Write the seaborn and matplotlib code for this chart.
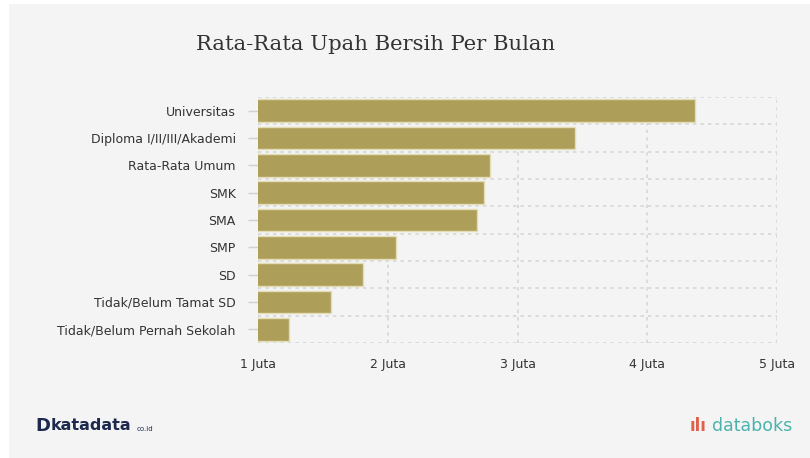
import matplotlib
matplotlib.use("Agg")
import matplotlib.pyplot as plt
import seaborn as sns
import pandas as pd
import numpy as np
from matplotlib.patches import Rectangle

categories = ["Universitas", "Diploma I/II/III/Akademi", "Rata-Rata Umum", "SMK", "SMA",
              "SMP", "SD", "Tidak/Belum Tamat SD", "Tidak/Belum Pernah Sekolah"]
values = [4.37, 3.44, 2.79, 2.74, 2.69, 2.06, 1.81, 1.56, 1.24]
xticks = [1, 2, 3, 4, 5]
xtick_labels = ["1 Juta", "2 Juta", "3 Juta", "4 Juta", "5 Juta"]
title = "Rata-Rata Upah Bersih Per Bulan"

df = pd.DataFrame({"kategori": categories, "nilai": values})

sns.set_style("white")
plt.rcParams["font.family"] = ["DejaVu Sans"]

bg = "#f4f4f4"
fig = plt.figure(figsize=(8.1, 4.58), dpi=100, facecolor="white")
fig.patches.append(Rectangle((9 / 810, 0), 1, 1 - 4 / 458, transform=fig.transFigure,
                             facecolor=bg, edgecolor="none", zorder=-10))
ax = fig.add_axes([258 / 810, 1 - 343 / 458, (777 - 258) / 810, (343 - 97) / 458])
ax.set_facecolor(bg)

sns.barplot(data=df, x="nilai", y="kategori", orient="h", color="#ad9f5a",
            saturation=1, width=0.84, edgecolor="#e4dcb4", linewidth=1, ax=ax, zorder=3)

ax.set_xlim(1, 5)
ax.set_ylim(len(categories) - 0.5, -0.5)
ax.set_xticks(xticks)
ax.set_xticklabels(xtick_labels)
ax.set_yticks(range(len(categories)))
ax.set_yticks(np.arange(-0.5, len(categories), 1.0), minor=True)
ax.set_xlabel("")
ax.set_ylabel("")

gridc = "#d6d6d6"
ax.grid(False)
ax.xaxis.grid(True, which="major", color=gridc, linestyle=(0, (2, 2.5)), linewidth=1.2, zorder=0)
ax.yaxis.grid(True, which="minor", color=gridc, linestyle=(0, (2, 2.5)), linewidth=1.2, zorder=0)
for s in ax.spines.values():
    s.set_visible(False)

ax.tick_params(axis="y", which="major", length=7, color="#d0d0d0", width=1, pad=9,
               labelsize=9, labelcolor="#333333", left=True)
ax.tick_params(axis="y", which="minor", length=0)
ax.tick_params(axis="x", length=0, pad=11, labelsize=9, labelcolor="#333333")
for lab in ax.get_xticklabels():
    lab.set_horizontalalignment("center")

fig.text(376 / 810, 1 - 45 / 458, title, ha="center", va="center",
         fontsize=15.2, family="DejaVu Serif", color="#333333")

fig.text(35 / 810, 1 - 426 / 458, "D", ha="left", va="center", fontsize=13,
         fontweight="bold", color="#1d2a4d")
fig.text(51 / 810, 1 - 426 / 458, "katadata", ha="left", va="center", fontsize=11.5,
         fontweight="bold", color="#1d2a4d", family="DejaVu Sans")
fig.text(137 / 810, 1 - 429 / 458, "co.id", ha="left", va="center", fontsize=5,
         color="#1d2a4d")
fig.text(690 / 810, 1 - 426 / 458, "ılı", ha="left", va="center", fontsize=12,
         fontweight="bold", color="#e0604a")
fig.text(712 / 810, 1 - 426 / 458, "databoks", ha="left", va="center", fontsize=12.5,
         color="#4bb3ad")

fig.savefig("out.png", dpi=100, facecolor=fig.get_facecolor())
